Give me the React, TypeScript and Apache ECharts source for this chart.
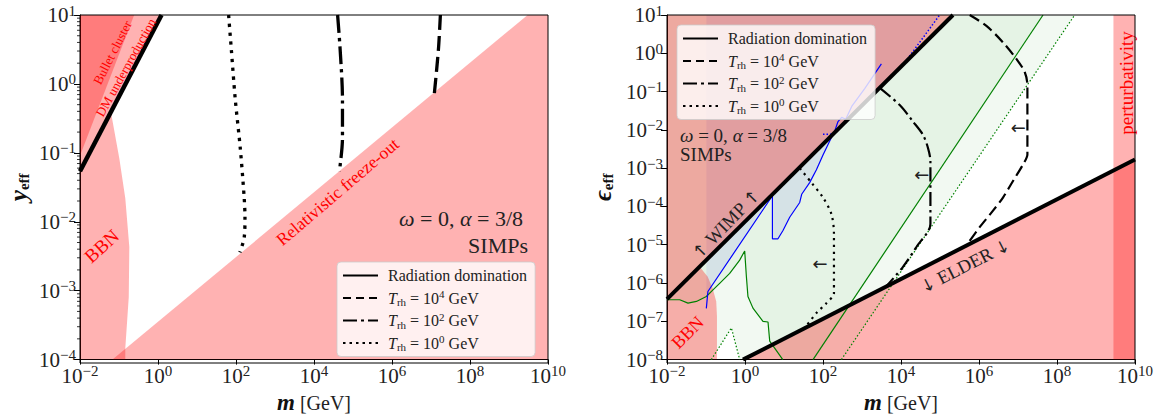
import React, { useEffect, useRef } from "react";
import * as echarts from "echarts";

type P = [number, number];
const FONT = "'Liberation Serif', 'DejaVu Serif', serif";

// ---------------- tick exponents ----------------
const xTickExps = [-2, 0, 2, 4, 6, 8, 10];
const yTickExpsLeft = [-4, -3, -2, -1, 0, 1];
const yTickExpsRight = [-8, -7, -6, -5, -4, -3, -2, -1, 0, 1];

// ---------------- LEFT PANEL (m [GeV], y_eff) ----------------
const radDomLeft: P[] = [[1e-2, 5.4e-2], [1.23, 10]];
const dmUnderproduction: P[] = [[1e-2, 5.4e-2], [1.23, 10], [1e-2, 10]];
const bulletCluster: P[] = [[1e-2, 9.1e-2], [0.245, 10], [1e-2, 10]];
const bbnLeft: P[] = [
  [1e-2, 1e-4], [1e-2, 5.4e-2], [0.062, 0.39], [0.102, 0.083], [0.145, 0.022],
  [0.184, 4.3e-3], [0.178, 8.1e-4], [0.145, 1.45e-4], [0.145, 1e-4],
];
const relativisticFO: P[] = [[0.068, 1e-4], [3.0e9, 10], [1e10, 10], [1e10, 1e-4]];
const trh0Left: P[] = [
  [64.6, 10], [75.9, 3.16], [95.5, 0.607], [128.8, 0.116], [162.2, 0.0222],
  [169.8, 0.0115], [162.2, 5.9e-3], [125.9, 3.6e-3],
];
const trh2Left: P[] = [[4.03e4, 10], [4.68e4, 3.16], [5.37e4, 0.6], [5.37e4, 0.162], [4.47e4, 0.0537]];
const trh4Left: P[] = [[1.74e7, 10], [1.55e7, 3.16], [1.22e7, 0.73]];

// ---------------- RIGHT PANEL (m [GeV], eps_eff) ----------------
const wimpLine: P[] = [[1e-2, 3.8e-7], [2.15e5, 10]];
const elderLine: P[] = [[0.889, 1e-8], [1e10, 1.675e-3]];
const wimpRegion: P[] = [[1e-2, 3.8e-7], [2.15e5, 10], [1e-2, 10]];
const elderRegion: P[] = [[0.889, 1e-8], [1e10, 1.675e-3], [1e10, 1e-8]];
const perturbRegion: P[] = [[2.8e9, 1e-8], [2.8e9, 10], [1e10, 10], [1e10, 1e-8]];
const bbnRight: P[] = [
  [1e-2, 1e-8], [1e-2, 3.8e-7], [0.0689, 2.65e-6], [0.1107, 1.46e-6], [0.1486, 7.14e-7],
  [0.183, 3.3e-7], [0.191, 1.35e-7], [0.191, 1e-8],
];
const blueCurve: P[] = [
  [0.102, 2.18e-7], [0.112, 6.0e-7], [5.05, 1.9e-4], [5.05, 1.43e-5], [7.01, 1.43e-5],
  [9.42, 2.36e-5], [14.0, 5.21e-5], [25.3, 1.27e-4], [28.4, 2.08e-4], [45.5, 4.19e-4],
  [67.8, 9.08e-4], [100, 2.22e-3], [148.6, 5.1e-3], [199.5, 9.27e-3], [242.7, 0.0165],
  [301.3, 0.0213], [382, 0.0189], [544.5, 0.041], [1172, 0.12], [3141, 0.531],
];
const blueDotted: P[] = [[100, 7.74e-3], [180, 7.74e-3], [1.107e4, 0.48], [9.8e4, 10]];
const greenSolidLow: P[] = [
  [1e-2, 3.66e-7], [0.0212, 3.66e-7], [0.0345, 2.99e-7], [0.0568, 3.3e-7], [0.102, 4.45e-7],
  [0.151, 6.62e-7], [0.224, 9.82e-7], [0.405, 1.78e-6], [0.731, 3.96e-6], [0.982, 6.89e-6],
  [1.086, 1.46e-6], [1.19, 4.45e-7], [1.6, 2.21e-7], [2.89, 1.0e-7], [3.89, 9.6e-8],
  [4.3, 3.05e-8], [8.57, 1.13e-8], [9.26, 1e-8],
];
const greenSolidHigh: P[] = [[55.5, 1e-8], [4.38e7, 10]];
const greenDottedLow: P[] = [[0.137, 1e-8], [0.448, 6.73e-8], [0.731, 1e-8]];
const greenDottedHigh: P[] = [[296.6, 1e-8], [2.84e8, 10]];
const trh4Right: P[] = [
  [5.78e5, 10], [1.55e6, 5.2], [4.12e6, 1.93], [9.1e6, 0.714], [1.486e7, 0.324],
  [1.742e7, 0.146], [1.742e7, 0.066], [1.742e7, 9.1e-3], [1.742e7, 2.26e-3], [1.343e7, 1.245e-3],
  [7.45e6, 4.63e-4], [4.12e6, 1.71e-4], [2.29e6, 7.76e-5], [1.04e6, 2.87e-5], [4.75e5, 9.6e-6],
];
const trh2Right: P[] = [
  [2844, 0.125], [9268, 0.0444], [2.03e4, 0.0165], [3.66e4, 7.43e-3], [4.92e4, 3.37e-3],
  [5.68e4, 1.52e-3], [5.68e4, 4.63e-4], [5.68e4, 3.5e-5], [2.48e4, 8.73e-6], [1.125e4, 2.65e-6],
  [4227, 8.3e-7],
];
const trh0Right: P[] = [
  [25.3, 1.0e-3], [50.5, 4.19e-4], [100, 1.71e-4], [164, 6.34e-5], [191, 1.93e-5],
  [191, 3.95e-6], [191, 5.4e-7], [122, 2.98e-7], [67.8, 1.64e-7], [34.0, 6.6e-8],
];

// ---------------- legend ----------------
const legendNames = ["Radiation domination", "Trh4", "Trh2", "Trh0"];
const trhExps: Record<string, number> = { Trh4: 4, Trh2: 2, Trh0: 0 };

// ---------------- colours ----------------
const RED_FILL = "rgba(255,0,0,0.3)";
const GREEN_FILL = "rgba(0,128,0,0.05)";
const BLUE_FILL = "rgba(0,0,255,0.066)";
const GREEN = "#008000";
const BLUE = "#0000ff";

const toLog = (pts: P[]): P[] => pts.map(([x, y]) => [Math.log10(x), Math.log10(y)] as P);

function polygon(name: string, gi: number, pts: P[], color: string) {
  const lp = toLog(pts);
  return {
    type: "custom",
    name,
    xAxisIndex: gi,
    yAxisIndex: gi,
    clip: true,
    silent: true,
    z: 2,
    data: [lp[0]],
    renderItem: (_p: any, api: any) => ({
      type: "polygon",
      shape: { points: lp.map((p) => api.coord(p)) },
      style: { fill: color, stroke: null },
    }),
  };
}

function curve(name: string, gi: number, pts: P[], color: string, width: number, type: any, smooth = 0) {
  return {
    type: "line",
    name,
    xAxisIndex: gi,
    yAxisIndex: gi,
    data: toLog(pts),
    showSymbol: false,
    symbol: "none",
    smooth,
    clip: true,
    silent: true,
    z: 3,
    lineStyle: { color, width, type, cap: "butt" },
  };
}

function legendDummy(name: string, width: number, type: any) {
  return {
    type: "line",
    name,
    xAxisIndex: 0,
    yAxisIndex: 0,
    data: [],
    symbol: "none",
    showSymbol: false,
    lineStyle: { color: "#000", width, type, cap: "butt" },
  };
}

const expStr = (v: number) => (v < 0 ? "\u2212" + Math.abs(v) : String(v));

const tickRich = {
  b: { fontFamily: FONT, fontSize: 21, color: "#222", lineHeight: 24 },
  s: { fontFamily: FONT, fontSize: 15, color: "#222", lineHeight: 18, verticalAlign: "top" },
};

function xAxisCfg(gi: number) {
  return {
    type: "value",
    gridIndex: gi,
    min: xTickExps[0],
    max: xTickExps[xTickExps.length - 1],
    interval: xTickExps[1] - xTickExps[0],
    splitLine: { show: false },
    axisLine: { show: true, onZero: false, lineStyle: { color: "#000", width: 1 } },
    axisTick: { show: true, inside: false, length: 5, lineStyle: { color: "#000", width: 1 } },
    axisLabel: { margin: 4, formatter: (v: number) => `{b|10}{s|${expStr(v)}}`, rich: tickRich },
    name: "{mi|m} [GeV]",
    nameLocation: "middle",
    nameGap: 31,
    nameTextStyle: {
      fontFamily: FONT,
      fontSize: 20,
      color: "#222",
      rich: {
        mi: { fontFamily: FONT, fontSize: 23, fontStyle: "italic", fontWeight: "bold", color: "#111" },
      },
    },
  };
}

function yAxisCfg(gi: number, exps: number[], sym: string, gap: number) {
  return {
    type: "value",
    gridIndex: gi,
    min: exps[0],
    max: exps[exps.length - 1],
    interval: 1,
    splitLine: { show: false },
    axisLine: { show: true, onZero: false, lineStyle: { color: "#000", width: 1 } },
    axisTick: { show: true, inside: false, length: 6, lineStyle: { color: "#000", width: 1 } },
    axisLabel: { margin: 4, formatter: (v: number) => `{b|10}{s|${expStr(v)}}`, rich: tickRich },
    name: `{gi|${sym}}{sub|eff}`,
    nameLocation: "middle",
    nameRotate: 90,
    nameGap: gap,
    nameTextStyle: {
      fontFamily: FONT,
      fontSize: 20,
      color: "#111",
      rich: {
        gi: { fontFamily: FONT, fontSize: 25, fontStyle: "italic", fontWeight: "bold", color: "#111", lineHeight: 26 },
        sub: { fontFamily: FONT, fontSize: 15, fontWeight: "bold", color: "#111", lineHeight: 14, verticalAlign: "bottom" },
      },
    },
  };
}

// minor ticks for the left y axis (log decades)
function minorTicks(gi: number, exps: number[], xMin: number) {
  const vals: P[] = [];
  for (let k = exps[0]; k < exps[exps.length - 1]; k++) {
    for (let m = 2; m <= 9; m++) vals.push([xMin, k + Math.log10(m)]);
  }
  return {
    type: "custom",
    xAxisIndex: gi,
    yAxisIndex: gi,
    silent: true,
    clip: false,
    z: 5,
    data: vals,
    renderItem: (_p: any, api: any) => {
      const c = api.coord([api.value(0), api.value(1)]);
      return {
        type: "line",
        shape: { x1: c[0] - 3, y1: c[1], x2: c[0], y2: c[1] },
        style: { stroke: "#000", lineWidth: 0.8 },
      };
    },
  };
}

const legendCommon = {
  orient: "vertical",
  data: legendNames,
  selectedMode: false,
  itemWidth: 35,
  itemHeight: 14,
  itemGap: 3.5,
  padding: [4, 8, 4, 5],
  backgroundColor: "rgba(255,255,255,0.8)",
  borderColor: "rgba(204,204,204,0.8)",
  borderWidth: 1,
  borderRadius: 4,
  itemStyle: { color: "rgba(0,0,0,0)", borderWidth: 0, opacity: 0 },
  formatter: (name: string) =>
    name === "Radiation domination" ? name : `{i|T}{sub|rh} = 10{sup|${trhExps[name]}} GeV`,
  textStyle: {
    fontFamily: FONT,
    fontSize: 16,
    color: "#222",
    lineHeight: 19,
    padding: [0, 0, 0, 5],
    rich: {
      i: { fontFamily: FONT, fontSize: 16, fontStyle: "italic", color: "#222", lineHeight: 19 },
      sub: { fontFamily: FONT, fontSize: 11, color: "#222", lineHeight: 11, verticalAlign: "bottom" },
      sup: { fontFamily: FONT, fontSize: 11, color: "#222", lineHeight: 11, verticalAlign: "top" },
    },
  },
};

function txt(text: string, x: number, y: number, deg: number, size: number, color: string, align = "center", rich?: any) {
  return {
    type: "text",
    x,
    y,
    rotation: (deg * Math.PI) / 180,
    z: 50,
    silent: true,
    style: {
      text,
      fill: color,
      fontFamily: FONT,
      fontSize: size,
      align,
      textAlign: align,
      verticalAlign: "middle",
      textVerticalAlign: "middle",
      rich,
    },
  };
}

const greekRich = (size: number) => ({
  i: { fontFamily: FONT, fontSize: size, fontStyle: "italic", fill: "#222", color: "#222" },
});

const arrowRich = (size: number) => ({
  a: { fontFamily: "'DejaVu Sans', sans-serif", fontSize: size, fill: "#222", color: "#222" },
});

function buildOption() {
  const blueRegion: P[] = [...blueCurve.slice(0, 13), ...blueDotted.slice(1), [blueCurve[0][0], 10]];
  const greenSolidRegion: P[] = [...greenSolidLow, ...greenSolidHigh, [1e-2, 10]];
  const greenDottedRegion: P[] = [[1e-2, 1e-8], ...greenDottedLow, ...greenDottedHigh, [1e-2, 10]];

  return {
    animation: false,
    grid: [
      { left: 80, top: 15, width: 468, height: 348, containLabel: false },
      { left: 667, top: 15, width: 468, height: 348, containLabel: false },
    ],
    xAxis: [xAxisCfg(0), xAxisCfg(1)],
    yAxis: [yAxisCfg(0, yTickExpsLeft, "y", 49), yAxisCfg(1, yTickExpsRight, "\u03f5", 52)],
    legend: [
      { ...legendCommon, left: 337, top: 262 },
      { ...legendCommon, left: 677, top: 25 },
    ],
    series: [
      // legend samples
      legendDummy("Radiation domination", 4, "solid"),
      legendDummy("Trh4", 2.5, [8, 5]),
      legendDummy("Trh2", 2.5, [14, 4, 3, 4]),
      legendDummy("Trh0", 2.5, [2.5, 4]),
      // ----- left fills
      polygon("DM underproduction", 0, dmUnderproduction, RED_FILL),
      polygon("Bullet cluster", 0, bulletCluster, RED_FILL),
      polygon("BBN (left)", 0, bbnLeft, RED_FILL),
      polygon("Relativistic freeze-out", 0, relativisticFO, RED_FILL),
      // ----- left curves
      curve("Trh0 left", 0, trh0Left, "#000", 3.3, [3.3, 5.5], 0.3),
      curve("Trh2 left", 0, trh2Left, "#000", 3.3, [18, 5, 3.3, 5], 0.3),
      curve("Trh4 left", 0, trh4Left, "#000", 3.3, [15, 6], 0.3),
      curve("Radiation domination left", 0, radDomLeft, "#000", 4.5, "solid"),
      minorTicks(0, yTickExpsLeft, xTickExps[0]),
      // ----- right fills
      polygon("Green dotted region", 1, greenDottedRegion, GREEN_FILL),
      polygon("Green solid region", 1, greenSolidRegion, GREEN_FILL),
      polygon("Blue region", 1, blueRegion, BLUE_FILL),
      polygon("BBN (right)", 1, bbnRight, RED_FILL),
      polygon("WIMP region", 1, wimpRegion, RED_FILL),
      polygon("ELDER region", 1, elderRegion, RED_FILL),
      polygon("Perturbativity", 1, perturbRegion, RED_FILL),
      // ----- right curves
      curve("green low", 1, greenSolidLow, GREEN, 1.2, "solid"),
      curve("green high", 1, greenSolidHigh, GREEN, 1.2, "solid"),
      curve("green dotted low", 1, greenDottedLow, GREEN, 1.2, [1.5, 2]),
      curve("green dotted high", 1, greenDottedHigh, GREEN, 1.2, [1.5, 2]),
      curve("blue", 1, blueCurve, BLUE, 1.2, "solid"),
      curve("blue dotted", 1, blueDotted, BLUE, 1.5, [1.5, 2]),
      curve("Trh0 right", 1, trh0Right, "#000", 2.2, [2.2, 4.5], 0.3),
      curve("Trh2 right", 1, trh2Right, "#000", 2.2, [14, 4, 2.5, 4], 0.3),
      curve("Trh4 right", 1, trh4Right, "#000", 2.2, [11, 5], 0.3),
      curve("WIMP boundary", 1, wimpLine, "#000", 4, "solid"),
      curve("ELDER boundary", 1, elderLine, "#000", 4, "solid"),
    ],
    graphic: [
      { type: "rect", z: 60, silent: true, shape: { x: 80, y: 15, width: 468, height: 348 }, style: { fill: null, stroke: "#000", lineWidth: 1 } },
      { type: "rect", z: 60, silent: true, shape: { x: 667, y: 15, width: 468, height: 348 }, style: { fill: null, stroke: "#000", lineWidth: 1 } },
      // left annotations
      txt("Bullet cluster", 112.5, 52.5, 63, 13, "#ff0000"),
      txt("DM underproduction", 125.8, 67.5, 61, 13, "#ff0000"),
      txt("BBN", 101.7, 246, 42, 19, "#ff0000"),
      txt("Relativistic freeze-out", 337.5, 191.7, 40.5, 17.5, "#ff0000"),
      txt("{i|\u03c9} = 0, {i|\u03b1} = 3/8", 523, 218, 0, 22, "#222", "right", greekRich(22)),
      txt("SIMPs", 528, 245, 0, 22, "#222", "right"),
      // right annotations
      txt("perturbativity", 1126.5, 83, 90, 19, "#ff0000"),
      txt("{a|\u2191} WIMP {a|\u2191}", 726, 224, 46, 18.5, "#222", "center", arrowRich(17)),
      txt("{a|\u2193} ELDER {a|\u2193}", 965, 266, 27, 18.5, "#222", "center", arrowRich(17)),
      txt("BBN", 687.5, 332.5, 45, 18, "#ff0000"),
      txt("{i|\u03c9} = 0, {i|\u03b1} = 3/8", 680, 135, 0, 19, "#222", "left", greekRich(19)),
      txt("SIMPs", 680, 154, 0, 19, "#222", "left"),
      txt("{a|\u2190}", 820, 263, 0, 18, "#333", "center", arrowRich(18)),
      txt("{a|\u2190}", 921.7, 174, 0, 18, "#333", "center", arrowRich(18)),
      txt("{a|\u2190}", 1018.3, 127.3, 0, 18, "#333", "center", arrowRich(18)),
    ],
  };
}

export default function App() {
  const ref = useRef<HTMLDivElement>(null);
  useEffect(() => {
    if (!ref.current) return;
    const chart = echarts.init(ref.current, null, { renderer: "svg" });
    chart.setOption(buildOption() as any);
    return () => chart.dispose();
  }, []);
  return (
    <div
      ref={ref}
      style={{ position: "absolute", left: 0, top: 0, width: 1159, height: 419, background: "#fff" }}
    />
  );
}
